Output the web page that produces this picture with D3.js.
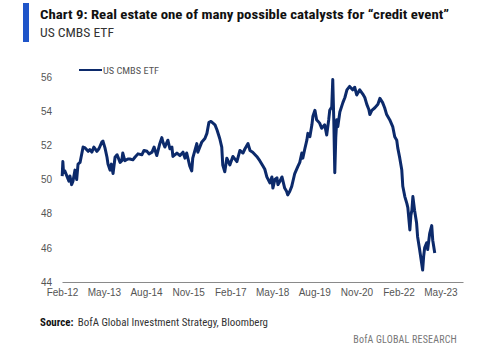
<!DOCTYPE html>
<html>
<head>
<meta charset="utf-8">
<script src="https://cdn.jsdelivr.net/npm/d3@7"></script>
<style>
  body { margin:0; background:#fff; }
  svg { display:block; font-family:"Liberation Sans Narrow","Roboto Condensed","Liberation Sans",sans-serif; }
</style>
</head>
<body>
<svg id="chart"></svg>
<script>
// time as decimal years
var years = [2012.09,2012.11,2012.13,2012.17,2012.23,2012.29,2012.32,2012.37,2012.41,2012.47,
  2012.52,2012.56,2012.62,2012.68,2012.71,2012.77,2012.86,2012.91,2012.97,2013.03,
  2013.12,2013.18,2013.27,2013.30,2013.36,2013.42,2013.45,2013.51,2013.55,2013.60,
  2013.66,2013.72,2013.81,2013.86,2013.89,2013.95,2014.04,2014.10,2014.19,2014.25,
  2014.34,2014.46,2014.52,2014.61,2014.67,2014.76,2014.82,2014.90,2014.99,2015.05,
  2015.08,2015.14,2015.23,2015.29,2015.35,2015.38,2015.50,2015.59,2015.68,2015.74,
  2015.79,2015.88,2015.94,2015.97,2016.09,2016.12,2016.24,2016.33,2016.39,2016.45,
  2016.51,2016.57,2016.63,2016.69,2016.77,2016.83,2016.86,2016.92,2016.98,2017.07,
  2017.16,2017.28,2017.37,2017.46,2017.52,2017.61,2017.67,2017.75,2017.87,2017.96,
  2018.05,2018.11,2018.17,2018.26,2018.32,2018.35,2018.41,2018.47,2018.50,2018.56,
  2018.62,2018.70,2018.76,2018.79,2018.85,2018.91,2019.00,2019.09,2019.15,2019.21,
  2019.24,2019.30,2019.36,2019.39,2019.45,2019.51,2019.54,2019.60,2019.65,2019.74,
  2019.80,2019.89,2019.95,2020.01,2020.04,2020.10,2020.13,2020.16,2020.19,2020.22,
  2020.25,2020.28,2020.34,2020.43,2020.49,2020.55,2020.63,2020.72,2020.78,2020.84,
  2020.93,2021.02,2021.08,2021.14,2021.20,2021.23,2021.29,2021.38,2021.47,2021.53,
  2021.61,2021.67,2021.73,2021.82,2021.91,2021.97,2022.03,2022.06,2022.12,2022.18,
  2022.21,2022.27,2022.33,2022.36,2022.42,2022.45,2022.48,2022.51,2022.56,2022.62,
  2022.65,2022.71,2022.77,2022.80,2022.83,2022.86,2022.92,2022.95,2023.01,2023.07,
  2023.10,2023.16];

var prices = [50.2,51.05,50.4,50.5,50.2,49.9,50.2,49.7,49.9,50.55,
  50.0,50.9,51.0,51.6,51.9,51.85,51.65,51.75,51.6,51.9,
  51.65,51.8,52.2,52.25,51.85,51.3,50.9,50.55,50.9,50.35,
  51.3,51.45,51.0,51.1,51.55,51.1,51.2,51.2,51.15,51.3,
  51.5,51.45,51.7,51.65,51.5,51.6,51.9,51.4,52.1,52.45,
  52.2,51.9,52.3,51.8,51.9,51.35,51.55,51.4,51.6,51.25,
  51.55,50.8,50.5,51.25,52.1,51.6,52.2,52.4,52.7,53.35,
  53.4,53.3,53.2,52.9,52.4,51.9,50.85,50.45,51.25,50.85,
  51.35,51.05,51.7,51.55,51.8,52.1,51.7,51.6,51.35,51.1,
  50.8,50.6,50.15,49.8,50.15,49.5,50.0,50.1,49.7,49.9,
  50.15,49.5,49.3,49.1,49.3,49.6,50.35,50.75,51.0,51.55,
  51.25,51.8,52.3,52.7,52.5,53.2,53.7,54.05,53.5,53.3,
  53.0,53.2,52.6,53.5,54.05,54.25,55.85,53.5,50.4,52.5,
  53.5,53.1,53.95,54.5,54.8,55.25,55.45,55.25,55.4,54.95,
  55.25,55.0,54.8,54.4,54.1,53.8,54.05,54.2,54.4,54.75,
  54.5,54.2,53.8,53.5,53.1,52.5,52.3,51.85,51.25,50.55,
  49.6,49.0,48.6,48.35,47.05,47.9,48.2,49.0,48.2,47.45,
  46.65,45.9,45.1,44.7,45.5,46.0,46.3,45.9,46.85,47.3,
  46.45,45.7];

var xTickLabels = ["Feb-12","May-13","Aug-14","Nov-15","Feb-17","May-18","Aug-19","Nov-20","Feb-22","May-23"];
var yTicks = [44,46,48,50,52,54,56];
var seriesName = "US CMBS ETF";

var width = 500, height = 348;
var svg = d3.select("#chart").attr("width", width).attr("height", height);

var margins = { top: 77, bottom: 66, left: 62, right: 37 };
var plotW = width - margins.left - margins.right;
var plotH = height - margins.top - margins.bottom;

function toDate(y) {
  var yr = Math.floor(y);
  var start = new Date(yr, 0, 1), end = new Date(yr + 1, 0, 1);
  return new Date(start.getTime() + (y - yr) * (end - start));
}

var data = years.map(function(y, i){ return { date: toDate(y), value: prices[i] }; });

//scales
var xScale = d3.scaleTime()
  .domain([new Date(2012, 1, 1), new Date(2024, 0, 1)])
  .range([0, plotW]);
var yScale = d3.scaleLinear()
  .domain([44, 56])
  .range([plotH, 0]);

var parseTick = d3.timeParse("%b-%y");
var tickDates = xTickLabels.map(function(s){ return parseTick(s); });

// title block
svg.append("rect").attr("x", 23).attr("y", 3).attr("width", 6).attr("height", 39).attr("fill", "#1f55c9");
svg.append("text").attr("x", 40).attr("y", 19)
  .attr("font-size", 13.5).attr("font-weight", "bold").attr("fill", "#111")
  .attr("textLength", 409).attr("lengthAdjust", "spacingAndGlyphs")
  .text("Chart 9: Real estate one of many possible catalysts for \u201ccredit event\u201d");
svg.append("text").attr("x", 40).attr("y", 37)
  .attr("font-size", 12.5).attr("fill", "#333")
  .attr("textLength", 74).attr("lengthAdjust", "spacingAndGlyphs")
  .text(seriesName);

var plotLand = svg.append("g")
  .attr("transform", "translate(" + margins.left + "," + margins.top + ")");

// y axis labels only
var yAxis = d3.axisLeft(yScale).tickValues(yTicks).tickSize(0).tickPadding(10);
plotLand.append("g").classed("yAxis", true).call(yAxis)
  .call(function(g){ g.select(".domain").remove(); })
  .selectAll("text").attr("font-size", 10).attr("fill", "#555");

// x axis
var xAxis = d3.axisBottom(xScale).tickValues(tickDates).tickSize(0).tickPadding(7)
  .tickFormat(function(d, i){ return xTickLabels[i]; });
var xg = plotLand.append("g").classed("xAxis", true)
  .attr("transform", "translate(0," + plotH + ")")
  .call(xAxis);
xg.select(".domain").attr("stroke", "#8a8a8a").attr("stroke-width", 1.2);
xg.selectAll("text").attr("font-size", 10).attr("fill", "#555");

// the line
var line = d3.line()
  .x(function(d){ return xScale(d.date); })
  .y(function(d){ return yScale(d.value); });

plotLand.append("path")
  .datum(data)
  .attr("d", line)
  .attr("fill", "none")
  .attr("stroke", "#0c2a6b")
  .attr("stroke-width", 3)
  .attr("stroke-linejoin", "round");

// legend
var legend = svg.append("g").attr("transform", "translate(79,70)");
legend.append("line").attr("x1", 0).attr("x2", 23).attr("y1", 0).attr("y2", 0)
  .attr("stroke", "#0c2a6b").attr("stroke-width", 2);
legend.append("text").attr("x", 24).attr("y", 3.5)
  .attr("font-size", 9.5).attr("fill", "#555")
  .attr("textLength", 56).attr("lengthAdjust", "spacingAndGlyphs")
  .text(seriesName);

// footer
var src = svg.append("text").attr("x", 40).attr("y", 326).attr("font-size", 10).attr("fill", "#333")
  .attr("textLength", 228).attr("lengthAdjust", "spacingAndGlyphs");
src.append("tspan").attr("font-weight", "bold").attr("fill", "#111").text("Source:");
src.append("tspan").attr("dx", 4).text("BofA Global Investment Strategy, Bloomberg");

svg.append("text").attr("x", 457).attr("y", 343).attr("text-anchor", "end")
  .attr("font-size", 10).attr("fill", "#777").attr("letter-spacing", 0.2)
  .text("BofA GLOBAL RESEARCH");
</script>
</body>
</html>
